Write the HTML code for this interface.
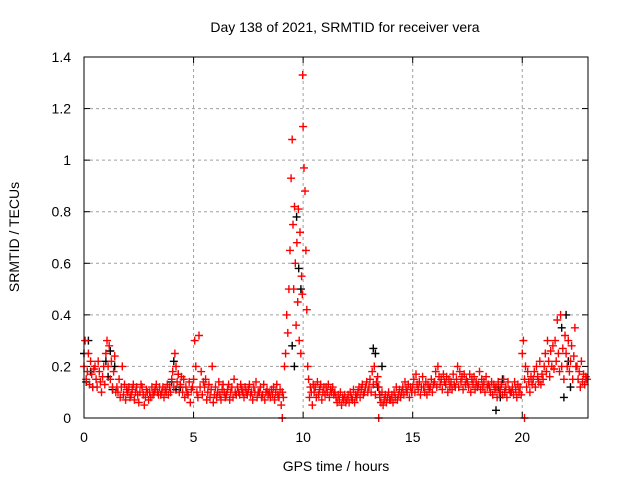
<!DOCTYPE html>
<html><head><meta charset="utf-8"><style>
html,body{margin:0;padding:0;background:#fff}
svg text{font-family:"Liberation Sans",sans-serif;font-size:14px;fill:#000}
</style></head><body>
<svg id="chart" width="640" height="480">
<rect width="640" height="480" fill="#fff"/>
<text x="345" y="32" text-anchor="middle">Day 138 of 2021, SRMTID for receiver vera</text>
<text x="336" y="471" text-anchor="middle">GPS time / hours</text>
<text transform="translate(19,237) rotate(-90)" text-anchor="middle">SRMTID / TECUs</text>
<g id="grid"></g>
<g id="axes"></g>
<g id="black"></g>
<g id="red"></g>
<rect x="84" y="57" width="504" height="361" fill="none" stroke="#000" stroke-width="1"/>
</svg>
<script>
const xTicks=[0,5,10,15,20];
const yTicks=[0,0.2,0.4,0.6,0.8,1,1.2,1.4];
const yTickLabels=["0","0.2","0.4","0.6","0.8","1","1.2","1.4"];
const redSegs=[
[0,[0.2,0.3,0.15,0.18,0.25,0.13,0.22,0.17,0.12,0.19]],
[0.5,[0.2,0.15,0.12,0.22,0.18,0.14,0.1,0.16,0.2,0.13]],
[1,[0.25,0.3,0.2,0.28,0.15,0.22,0.12,0.18,0.24,0.1]],
[1.5,[0.12,0.1,0.15,0.08,0.12,0.2,0.09,0.13,0.07,0.11]],
[2,[0.1,0.12,0.08,0.09,0.11,0.13,0.07,0.1,0.12,0.09]],
[2.5,[0.06,0.1,0.13,0.12,0.09,0.05,0.08,0.11,0.1,0.07]],
[3,[0.1,0.08,0.12,0.09,0.1,0.11,0.13,0.1,0.09,0.12]],
[3.5,[0.09,0.1,0.12,0.08,0.11,0.1,0.13,0.09,0.12,0.1]],
[4,[0.15,0.18,0.12,0.25,0.2,0.14,0.17,0.1,0.13,0.16]],
[4.5,[0.1,0.15,0.08,0.12,0.1,0.09,0.14,0.06,0.11,0.12]],
[5,[0.15,0.3,0.2,0.1,0.08,0.32,0.12,0.18,0.09,0.14]],
[5.5,[0.12,0.15,0.07,0.1,0.13,0.08,0.11,0.2,0.06,0.09]],
[6,[0.12,0.08,0.1,0.14,0.09,0.07,0.11,0.13,0.1,0.08]],
[6.5,[0.09,0.11,0.13,0.07,0.1,0.12,0.08,0.15,0.1,0.09]],
[7,[0.12,0.1,0.09,0.13,0.11,0.1,0.08,0.12,0.1,0.09]],
[7.5,[0.11,0.13,0.09,0.1,0.07,0.12,0.1,0.14,0.08,0.1]],
[8,[0.1,0.12,0.08,0.09,0.13,0.07,0.1,0.11,0.09,0.1]],
[8.5,[0.08,0.11,0.09,0.12,0.07,0.1,0.13,0.09,0.08,0.11]],
[9,[0.05,0.1,0.08,0.2,0.25,0.4,0.33,0.5,0.65,0.93]],
[9.5,[1.08,0.75,0.5,0.82,0.6,0.36,0.68,0.45,0.81,0.3,0.72,0.25,0.55,0.48]],
[10,[1.13,0.97,0.88,0.65,0.42,0.2,0.15,0.08,0.12,0.1,0.05,0.13]],
[10.5,[0.1,0.12,0.08,0.14,0.09,0.11,0.13,0.07,0.1,0.12]],
[11,[0.09,0.12,0.1,0.13,0.08,0.11,0.1,0.12,0.09,0.1]],
[11.5,[0.08,0.06,0.09,0.07,0.1,0.05,0.08,0.07,0.09,0.06]],
[12,[0.07,0.09,0.06,0.1,0.08,0.07,0.11,0.06,0.09,0.08]],
[12.5,[0.1,0.12,0.08,0.11,0.13,0.09,0.1,0.12,0.14,0.1]],
[13,[0.12,0.15,0.1,0.18,0.13,0.2,0.09,0.14,0.16,0.12]],
[13.5,[0.08,0.06,0.1,0.05,0.07,0.09,0.06,0.08,0.1,0.07]],
[14,[0.07,0.09,0.06,0.1,0.08,0.12,0.07,0.09,0.11,0.08]],
[14.5,[0.1,0.12,0.09,0.14,0.11,0.1,0.13,0.08,0.12,0.1]],
[15,[0.12,0.15,0.1,0.17,0.13,0.11,0.14,0.09,0.12,0.16]],
[15.5,[0.12,0.1,0.14,0.09,0.13,0.11,0.12,0.15,0.1,0.13]],
[16,[0.14,0.18,0.12,0.2,0.16,0.13,0.15,0.11,0.17,0.14]],
[16.5,[0.13,0.16,0.1,0.15,0.12,0.14,0.11,0.17,0.13,0.12]],
[17,[0.15,0.2,0.12,0.18,0.14,0.16,0.11,0.17,0.13,0.15]],
[17.5,[0.14,0.12,0.17,0.1,0.15,0.13,0.16,0.11,0.14,0.12]],
[18,[0.13,0.18,0.11,0.15,0.12,0.14,0.1,0.16,0.12,0.13]],
[18.5,[0.12,0.1,0.14,0.09,0.13,0.11,0.12,0.08,0.14,0.1]],
[19,[0.11,0.13,0.09,0.15,0.1,0.12,0.08,0.14,0.11,0.1]],
[19.5,[0.1,0.12,0.09,0.14,0.11,0.08,0.13,0.1,0.12,0.09]],
[20,[0.25,0.3,0.15,0.2,0.12,0.18,0.14,0.1,0.16,0.13]],
[20.5,[0.15,0.18,0.12,0.2,0.16,0.14,0.22,0.13,0.17,0.15]],
[21,[0.2,0.25,0.18,0.3,0.22,0.16,0.26,0.2,0.28,0.19]],
[21.5,[0.3,0.22,0.38,0.25,0.18,0.4,0.2,0.27,0.15,0.32]],
[22,[0.25,0.2,0.3,0.18,0.22,0.28,0.15,0.24,0.35,0.2]],
[22.5,[0.2,0.15,0.18,0.12,0.22,0.14,0.17,0.13,0.16,0.15]],
[9.98,[1.33]],
[9.05,[0]],[13.45,[0]],[20.1,[0]]
];
const blackSegs=[
[0,[0.25,0.14,0.3,0.18,0.12]],
[1,[0.22,0.16,0.26,0.11,0.2]],
[4,[0.14,0.22,0.11,0.17,0.12]],
[9.5,[0.28,0.2,0.78,0.58,0.5]],
[13.2,[0.27,0.25,0.12,0.09,0.2]],
[18.8,[0.03,0.12,0.08,0.15,0.1]],
[21.8,[0.35,0.08,0.4,0.22,0.12]]
];
const X=h=>84+h*(504/23);
const Y=v=>418-v*(361/1.4);
const NS="http://www.w3.org/2000/svg";
function mk(tag,attrs,parent){const e=document.createElementNS(NS,tag);for(const k in attrs)e.setAttribute(k,attrs[k]);parent.appendChild(e);return e;}
const grid=document.getElementById('grid'),axes=document.getElementById('axes');
xTicks.forEach(t=>{
  const x=X(t);
  if(t>0){const g=mk('line',{x1:x,y1:57,x2:x,y2:418,stroke:'#a0a0a0','stroke-dasharray':'3,3'},grid);
  
  }
  mk('line',{x1:x,y1:418,x2:x,y2:412,stroke:'#000'},axes);
  mk('line',{x1:x,y1:57,x2:x,y2:63,stroke:'#000'},axes);
  const tx=mk('text',{x:x,y:442,'text-anchor':'middle'},axes);tx.textContent=t;
  
  
});
yTicks.forEach((t,i)=>{
  const y=Y(t);
  if(t>0&&t<1.4){const g=mk('line',{x1:84,y1:y,x2:588,y2:y,stroke:'#a0a0a0','stroke-dasharray':'3,3'},grid);
  
  }
  mk('line',{x1:84,y1:y,x2:90,y2:y,stroke:'#000'},axes);
  mk('line',{x1:588,y1:y,x2:582,y2:y,stroke:'#000'},axes);
  const tx=mk('text',{x:71,y:y+5,'text-anchor':'end'},axes);tx.textContent=yTickLabels[i];
  
  
});
function drawSeries(segs,gid,color){
  const g=document.getElementById(gid);let d='';
  segs.forEach(([s,vals])=>{vals.forEach((v,i)=>{
    const h=s+(vals.length>1?i*0.5/vals.length:0);
    const x=X(h),y=Y(v);
    d+=`M${(x-4).toFixed(1)},${y.toFixed(1)}h8M${x.toFixed(1)},${(y-4).toFixed(1)}v8`;
  });});
  const p=mk('path',{d:d,stroke:color,'stroke-width':1.4,fill:'none'},g);
  
  
}
drawSeries(blackSegs,'black','#000');
drawSeries(redSegs,'red','#ff0000');
</script>
</body></html>
